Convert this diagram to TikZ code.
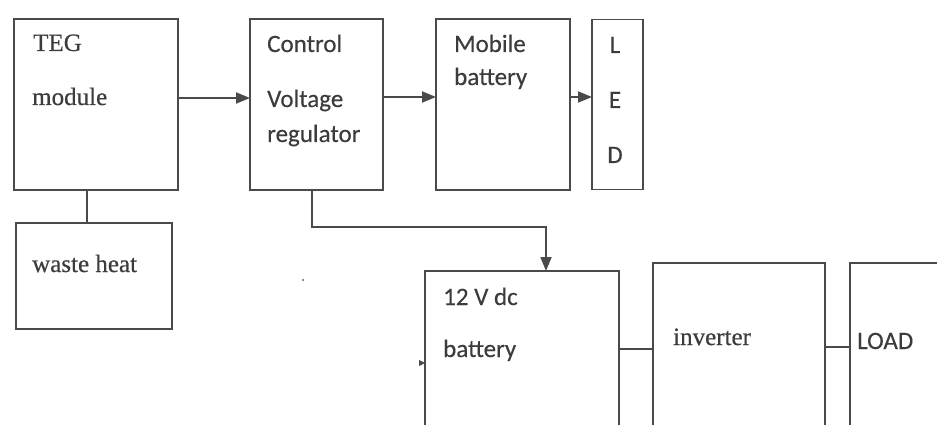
\documentclass[tikz,border=0pt]{standalone}
\usepackage{fontspec}
\setmainfont{Liberation Serif}[FakeBold=0.5]
\newfontfamily\calfont{Carlito}[FakeBold=0.3]
\usetikzlibrary{arrows.meta}
\definecolor{ln}{HTML}{4A4A4A}
\definecolor{tx}{HTML}{3C3C3C}
\tikzset{
  blk/.style={draw=ln, line width=1.8pt, fill=none, inner sep=0pt, outer sep=0pt},
  arr/.style={draw=ln, line width=1.8pt, -{Triangle[length=14pt,width=11pt]}},
  wire/.style={draw=ln, line width=1.8pt},
  sertx/.style={anchor=base west, inner sep=0pt, text=tx, font=\fontsize{25}{30}\selectfont},
  santx/.style={anchor=base west, inner sep=0pt, text=tx, font=\calfont\fontsize{25}{30}\selectfont},
}
\begin{document}
\begin{tikzpicture}[x=1pt, y=-1pt]
\useasboundingbox (0,0) rectangle (937,425);
\clip (0,0) rectangle (937,425);
\fill[white] (0,0) rectangle (937,425);
% boxes
\node[blk, minimum width=164pt, minimum height=171pt] (teg) at (96,104.5) {};
\node[blk, minimum width=156pt, minimum height=106pt] (waste) at (94,276) {};
\node[blk, minimum width=133pt, minimum height=171pt] (ctrl) at (316.5,104.5) {};
\node[blk, minimum width=134pt, minimum height=171pt] (mob) at (503,104.5) {};
\node[blk, minimum width=51pt, minimum height=170pt] (led) at (617.5,104.5) {};
\node[blk, minimum width=194pt, minimum height=198pt] (bat) at (522,370) {};
\node[blk, minimum width=172pt, minimum height=207pt] (inv) at (739,366.5) {};
\node[blk, minimum width=110pt, minimum height=207pt] (load) at (905,366.5) {};
% texts
\node[sertx] (t1) at (33,51) {TEG};
\node[sertx] (t2) at (32,105) {module};
\node[sertx] (t3) at (32,272) {waste heat};
\node[santx] (c1) at (267,52) {Control};
\node[santx] (c2) at (267,107) {Voltage};
\node[santx] (c3) at (267,142) {regulator};
\node[santx] (m1) at (454,52) {Mobile};
\node[santx] (m2) at (454,85) {battery};
\node[santx, anchor=base] (l1) at (615,53) {L};
\node[santx, anchor=base] (l2) at (615,108) {E};
\node[santx, anchor=base] (l3) at (615,163) {D};
\node[santx] (b1) at (443,305) {12 V dc};
\node[santx] (b2) at (443,357) {battery};
\node[sertx] (i1) at (673,345) {inverter};
\node[santx] (ld) at (857,349) {LOAD};
% connectors
\draw[arr] (teg.east |- 0,98) -- (ctrl.west |- 0,98);
\draw[arr] (ctrl.east |- 0,97) -- (mob.west |- 0,97);
\draw[arr] (mob.east |- 0,97) -- (led.west |- 0,97);
\draw[wire] (teg.south -| 87,0) -- (waste.north -| 87,0);
\draw[arr] (ctrl.south -| 312,0) -- (312,227) -- (546,227) -- (bat.north -| 546,0);
\draw[wire] (bat.east |- 0,349) -- (inv.west |- 0,349);
\draw[wire] (inv.east |- 0,347) -- (load.west |- 0,347);
% stray marks
\fill[ln] (bat.west |- 0,363) -- ++(-6,-3) -- ++(0,6) -- cycle;
\fill[ln] (303,280) circle (1pt);
\end{tikzpicture}
\end{document}
